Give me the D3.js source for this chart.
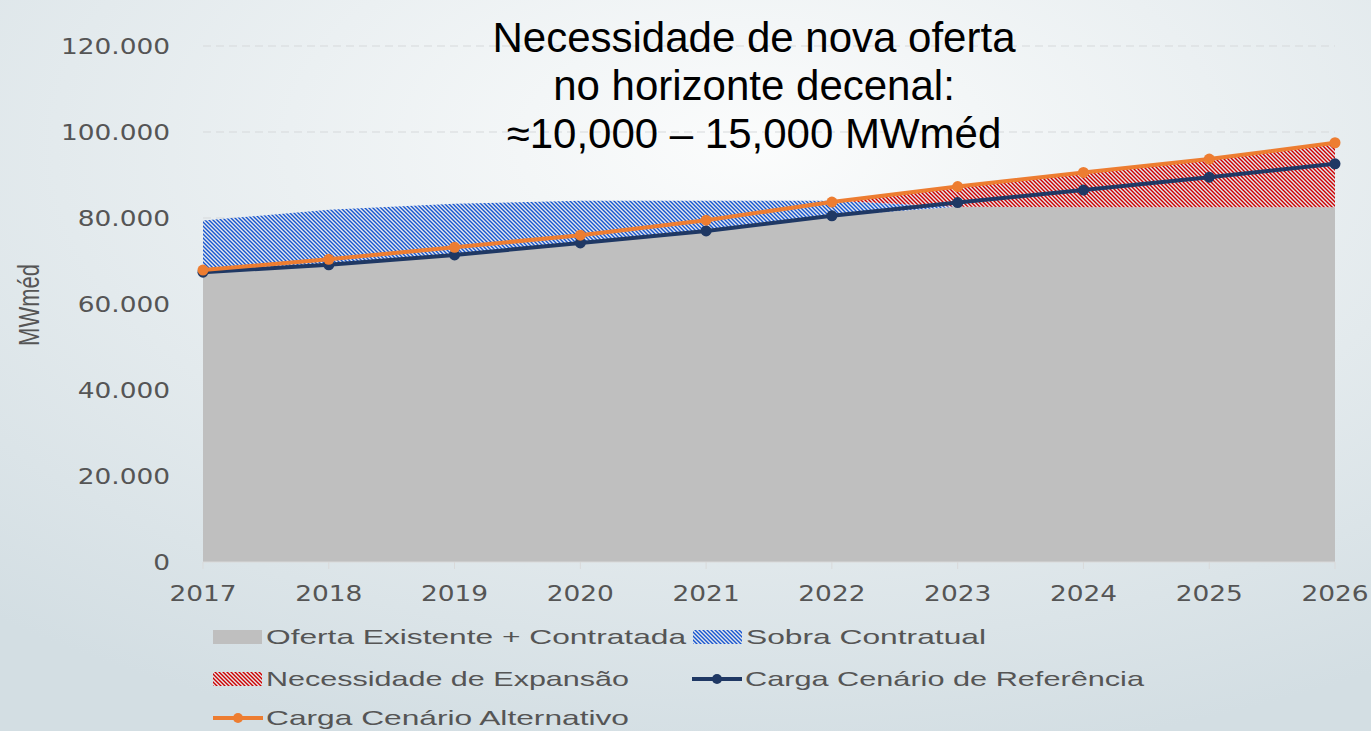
<!DOCTYPE html>
<html>
<head>
<meta charset="utf-8">
<script src="https://cdnjs.cloudflare.com/ajax/libs/d3/7.8.5/d3.min.js"></script>
<style>
  html, body { margin: 0; padding: 0; overflow: hidden; }
</style>
</head>
<body>
<div id="chart"></div>
<script>
var years = [2017, 2018, 2019, 2020, 2021, 2022, 2023, 2024, 2025, 2026];

// stacked areas (MWméd)
var ofertaExistente = [67400, 69100, 71400, 74200, 77000, 80500, 82600, 82500, 82500, 82500];
var sobraContratual = [12000, 12800, 11900, 9800, 7000, 3500, 0, 0, 0, 0];
var necessidadeExpansao = [0, 0, 0, 0, 0, 0, 4700, 8100, 11200, 15000];

// load lines
var cargaReferencia = [67400, 69100, 71400, 74200, 77000, 80500, 83600, 86500, 89500, 92600];
var cargaAlternativo = [67900, 70400, 73200, 76000, 79500, 83700, 87300, 90600, 93700, 97500];

var yTicks = [0, 20000, 40000, 60000, 80000, 100000, 120000];
var titleLines = ["Necessidade de nova oferta", "no horizonte decenal:", "\u224810,000 \u2013 15,000 MWm\u00e9d"];
var legendNames = ["Oferta Existente + Contratada", "Sobra Contratual", "Necessidade de Expans\u00e3o",
                   "Carga Cen\u00e1rio de Refer\u00eancia", "Carga Cen\u00e1rio Alternativo"];

var width = 1371, height = 731;
var grey = "#555";
var stretch = 1.2;   // the original picture is wider than its fonts

var svg = d3.select("#chart").append("svg")
    .attr("width", width)
    .attr("height", height);

var defs = svg.append("defs");

var bg = defs.append("radialGradient")
    .attr("id", "bg")
    .attr("cx", "55%").attr("cy", "20%").attr("r", "85%");
bg.append("stop").attr("offset", "0%").attr("stop-color", "#fbfcfc");
bg.append("stop").attr("offset", "100%").attr("stop-color", "#d3dee3");

// "\" stripes, pixel aligned so they stay crisp
function hatch(id, colour) {
  var p = defs.append("pattern")
      .attr("id", id)
      .attr("patternUnits", "userSpaceOnUse")
      .attr("width", 4).attr("height", 4);
  p.append("rect").attr("width", 4).attr("height", 4).attr("fill", "#e6e8ec");
  p.append("path")
      .attr("d", "M0,0 L2,0 L4,2 L4,4 Z M0,2 L2,4 L0,4 Z")
      .attr("fill", colour);
}
hatch("blueHatch", "#1656d0");
hatch("redHatch", "#cc0000");

svg.append("rect")
    .attr("width", width).attr("height", height)
    .attr("fill", "url(#bg)");

var x = d3.scalePoint().domain(years).range([203, 1335]);
var y = d3.scaleLinear().domain([0, 120000]).range([562, 46]);

var fmt = d3.formatLocale({decimal: ",", thousands: ".", grouping: [3], currency: ["", ""]}).format(",d");

// gridlines
svg.append("g")
  .selectAll("line")
  .data(yTicks.slice(1))
  .enter().append("line")
    .attr("x1", x(2017)).attr("x2", x(2026))
    .attr("y1", d => y(d)).attr("y2", d => y(d))
    .attr("stroke", "#d6d9db")
    .attr("stroke-width", 1)
    .attr("stroke-dasharray", "8,5");

// stacked areas
var rows = years.map(function(yr, i) {
  return {year: yr, existente: ofertaExistente[i], sobra: sobraContratual[i], necessidade: necessidadeExpansao[i]};
});
var stack = d3.stack().keys(["existente", "sobra", "necessidade"])(rows);
var fills = {existente: "#bfbfbf", sobra: "url(#blueHatch)", necessidade: "url(#redHatch)"};

var area = d3.area()
    .x(d => x(d.data.year))
    .y0(d => y(d[0]))
    .y1(d => y(d[1]));

svg.append("g")
  .selectAll("path")
  .data(stack)
  .enter().append("path")
    .attr("d", area)
    .attr("fill", d => fills[d.key]);

// x axis line + ticks
var xAxis = svg.append("g").attr("transform", "translate(0," + y(0) + ")");
xAxis.append("line")
    .attr("x1", x(2017)).attr("x2", x(2026))
    .attr("stroke", "#d9d9d9");
xAxis.selectAll(".tick")
  .data(years)
  .enter().append("line")
    .attr("x1", d => x(d)).attr("x2", d => x(d))
    .attr("y1", 0).attr("y2", 7)
    .attr("stroke", "#d9d9d9");
xAxis.selectAll("text")
  .data(years)
  .enter().append("text")
    .attr("transform", d => "translate(" + x(d) + ",39) scale(" + stretch + ",1)")
    .attr("text-anchor", "middle")
    .style("font", "22px 'DejaVu Sans'")
    .attr("fill", grey)
    .text(d => d);

// y tick labels
svg.append("g")
  .selectAll("text")
  .data(yTicks)
  .enter().append("text")
    .attr("transform", d => "translate(170," + (y(d) + 8) + ") scale(" + stretch + ",1)")
    .attr("text-anchor", "end")
    .style("font", "22px 'DejaVu Sans'")
    .attr("fill", grey)
    .text(d => fmt(d));

svg.append("text")
    .attr("transform", "translate(39,305) scale(1.35,1) rotate(-90)")
    .attr("text-anchor", "middle")
    .style("font", "22px 'Liberation Sans'")
    .attr("fill", grey)
    .text("MWm\u00e9d");

// load lines
var line = d3.line()
    .x((d, i) => x(years[i]))
    .y(d => y(d));

function drawLoad(values, colour) {
  svg.append("path")
      .attr("d", line(values))
      .attr("fill", "none")
      .attr("stroke", colour)
      .attr("stroke-width", 4)
      .attr("stroke-linejoin", "round");
  svg.append("g")
    .selectAll("circle")
    .data(values)
    .enter().append("circle")
      .attr("cx", (d, i) => x(years[i]))
      .attr("cy", d => y(d))
      .attr("r", 5.5)
      .attr("fill", colour);
}
drawLoad(cargaReferencia, "#1f3864");
drawLoad(cargaAlternativo, "#ed7d31");

// title annotation
svg.append("g")
  .selectAll("text")
  .data(titleLines)
  .enter().append("text")
    .attr("x", 754)
    .attr("y", (d, i) => 52 + i * 48)
    .attr("text-anchor", "middle")
    .style("font", "42px 'Liberation Sans'")
    .attr("fill", "#000")
    .text(d => d);

// legend
var legendItems = [
  {name: legendNames[0], type: "rect", fill: "#bfbfbf", x: 213, y: 637, w: 420},
  {name: legendNames[1], type: "rect", fill: "url(#blueHatch)", x: 693, y: 637, w: 240},
  {name: legendNames[2], type: "rect", fill: "url(#redHatch)", x: 213, y: 679, w: 363},
  {name: legendNames[3], type: "line", fill: "#1f3864", x: 692, y: 679, w: 399},
  {name: legendNames[4], type: "line", fill: "#ed7d31", x: 213, y: 718, w: 363}
];

var legend = svg.append("g")
  .selectAll("g")
  .data(legendItems)
  .enter().append("g")
    .attr("transform", d => "translate(" + d.x + "," + d.y + ")");

legend.filter(d => d.type == "rect").append("rect")
    .attr("x", 0).attr("y", -7)
    .attr("width", 49).attr("height", 14)
    .attr("fill", d => d.fill);

legend.filter(d => d.type == "line").append("line")
    .attr("x1", 0).attr("x2", 50)
    .attr("stroke", d => d.fill)
    .attr("stroke-width", 4);
legend.filter(d => d.type == "line").append("circle")
    .attr("cx", 25).attr("r", 5)
    .attr("fill", d => d.fill);

legend.append("text")
    .attr("x", 53)
    .attr("y", 7)
    .attr("textLength", d => d.w)
    .attr("lengthAdjust", "spacingAndGlyphs")
    .style("font", "21px 'Liberation Sans'")
    .attr("fill", grey)
    .text(d => d.name);
</script>
</body>
</html>
